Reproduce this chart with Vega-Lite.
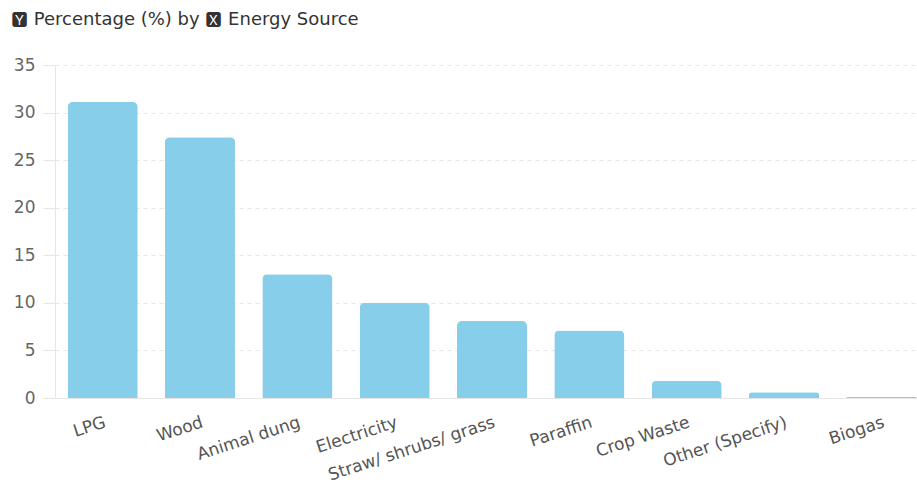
{
  "$schema": "https://vega.github.io/schema/vega-lite/v6.json",
  "autosize": {"type": "none"},
  "padding": {"left": 55, "top": 65, "right": 0, "bottom": 100},
  "width": 862,
  "height": 333,
  "background": "white",
  "title": {
    "text": "🆈 Percentage (%) by 🆇 Energy Source",
    "anchor": "start",
    "frame": "group",
    "dx": -44,
    "offset": 27,
    "font": "DejaVu Sans",
    "fontSize": 18,
    "fontWeight": "normal",
    "color": "#333333"
  },
  "data": {
    "values": [
      {"source": "LPG", "pct": 31.1},
      {"source": "Wood", "pct": 27.4},
      {"source": "Animal dung", "pct": 13.0},
      {"source": "Electricity", "pct": 10.0},
      {"source": "Straw/ shrubs/ grass", "pct": 8.1},
      {"source": "Paraffin", "pct": 7.1},
      {"source": "Crop Waste", "pct": 1.8},
      {"source": "Other (Specify)", "pct": 0.6},
      {"source": "Biogas", "pct": 0.1}
    ]
  },
  "mark": {
    "type": "bar",
    "color": "#87CEEB",
    "cornerRadiusTopLeft": 5,
    "cornerRadiusTopRight": 5
  },
  "encoding": {
    "x": {
      "field": "source",
      "type": "nominal",
      "sort": null,
      "title": null,
      "scale": {"range": [0, 874], "paddingInner": 0.28, "paddingOuter": 0.13},
      "axis": {
        "labelAngle": -18,
        "labelAlign": "right",
        "labelBaseline": "top",
        "labelPadding": 16,
        "labelFont": "DejaVu Sans",
        "labelFontSize": 17,
        "labelColor": "#555555",
        "ticks": false,
        "domainColor": "#e6e6e6",
        "labelOverlap": false
      }
    },
    "y": {
      "field": "pct",
      "type": "quantitative",
      "title": null,
      "scale": {"domain": [0, 35], "nice": false},
      "axis": {
        "values": [0, 5, 10, 15, 20, 25, 30, 35],
        "labelFont": "DejaVu Sans",
        "labelFontSize": 17,
        "labelColor": "#666666",
        "labelPadding": 8,
        "tickColor": "#e6e6e6",
        "tickSize": 12,
        "domainColor": "#e6e6e6",
        "gridColor": "#e6e6e6",
        "gridDash": [4, 4]
      }
    }
  },
  "config": {"view": {"stroke": null}}
}
